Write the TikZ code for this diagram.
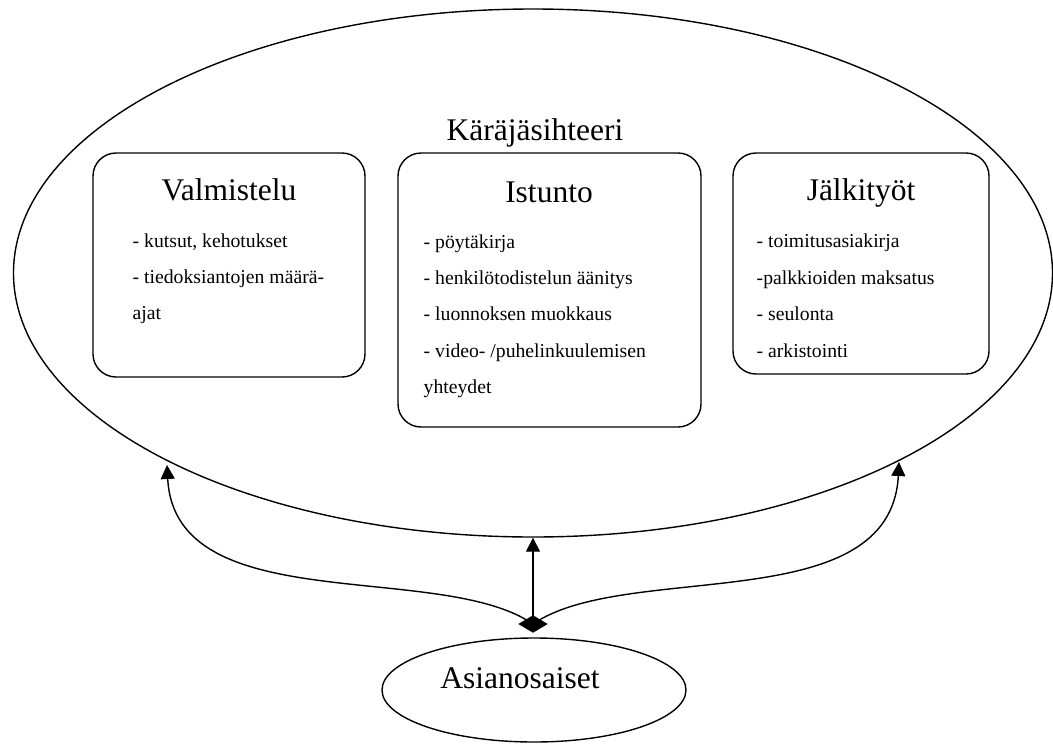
\documentclass[tikz,border=0pt]{standalone}
\usepackage{fontspec}
\setmainfont{Liberation Serif}
\usetikzlibrary{shapes.geometric,arrows.meta}
\begin{document}
\begin{tikzpicture}[x=1pt,y=-1pt,
  line width=1.4pt,
  titletext/.style={font=\fontsize{31.5}{36}\selectfont, inner sep=0pt, anchor=base},
  bodytext/.style={font=\fontsize{19.7}{24}\selectfont, inner sep=0pt, anchor=base west},
  roundbox/.style={draw, rounded corners=23pt},
  arr/.style={-{Triangle[length=14pt,width=14pt]}}]
\useasboundingbox (0,0) rectangle (1053,745);
% outer ellipse
\node[draw, ellipse, minimum width=1039pt, minimum height=528pt, inner sep=0pt] (big) at (533,273) {};
\node[titletext] (kara) at (535,140) {Käräjäsihteeri};
% boxes
\draw[roundbox] (93,153) rectangle (365,377);
\draw[roundbox] (398,153) rectangle (701,427);
\draw[roundbox] (733,153) rectangle (989,374);
\node[titletext] (valm) at (229,200) {Valmistelu};
\node[titletext] (istu) at (549,202) {Istunto};
\node[titletext] (jalk) at (861,200) {Jälkityöt};
% body texts
\node[bodytext] (v1) at (132,247) {- kutsut, kehotukset};
\node[bodytext] (v2) at (132,283) {- tiedoksiantojen määrä-};
\node[bodytext] (v3) at (132,319) {ajat};
\node[bodytext] (i1) at (423,248) {- pöytäkirja};
\node[bodytext] (i2) at (423,284) {- henkilötodistelun äänitys};
\node[bodytext] (i3) at (423,320) {- luonnoksen muokkaus};
\node[bodytext] (i4) at (423,357) {- video- /puhelinkuulemisen};
\node[bodytext] (i5) at (423,393) {yhteydet};
\node[bodytext] (j1) at (756,247) {- toimitusasiakirja};
\node[bodytext] (j2) at (756,284) {-palkkioiden maksatus};
\node[bodytext] (j3) at (756,320) {- seulonta};
\node[bodytext] (j4) at (756,357) {- arkistointi};
% small ellipse
\node[draw, ellipse, minimum width=304pt, minimum height=104pt, inner sep=0pt] (asia) at (534,690) {};
\node[titletext] (asiatext) at (520,688) {Asianosaiset};
% hub and connectors
\coordinate (tipL) at (167,465);
\coordinate (tipR) at (899,462);
\draw[arr] (533,624) coordinate (hubc) .. controls (440,560) and (175,620) .. (tipL);
\draw[arr] (hubc) .. controls (626,560) and (891,620) .. (tipR);
\draw[arr] (hubc) -- (big.south);
\node[diamond, fill, minimum width=30pt, minimum height=18pt, inner sep=0pt] (hub) at (hubc) {};
\end{tikzpicture}
\end{document}
